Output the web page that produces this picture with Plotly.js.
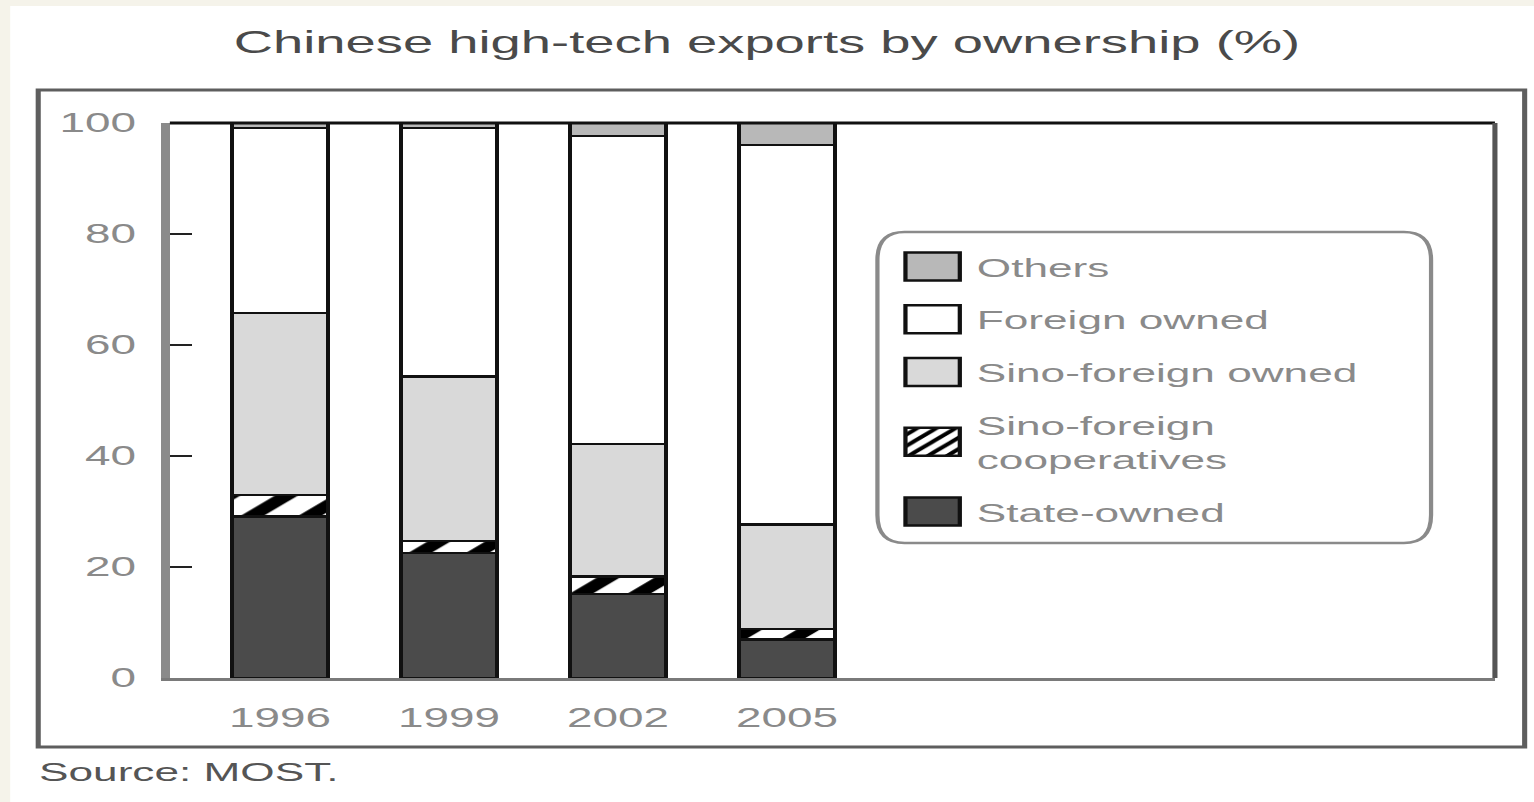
<!DOCTYPE html>
<html>
<head>
<meta charset="utf-8">
<script src="https://cdn.plot.ly/plotly-3.0.1.min.js"></script>
<style>
  html, body { margin: 0; padding: 0; overflow: hidden; background: #f5f3ea; }
  #chart { width: 903px; height: 802px; transform: scaleX(1.698781); transform-origin: 0 0; }
</style>
</head>
<body>
<div id="chart"></div>
<script>
// ---- data (percent of high-tech exports) ----
const years = ['1996', '1999', '2002', '2005'];
const seriesNames = ['State-owned', 'Sino-foreign<br>cooperatives', 'Sino-foreign owned', 'Foreign owned', 'Others'];
const stateOwned   = [29.1, 22.5, 15.1, 6.9];
const sinoCoop     = [3.9, 2.2, 3.2, 1.9];
const sinoOwned    = [32.8, 29.6, 23.9, 18.9];
const foreignOwned = [33.3, 44.8, 55.5, 68.3];
const others       = [0.9, 0.9, 2.3, 4.0];
const yTicks = [0, 20, 40, 60, 80, 100];

const seriesValues = [stateOwned, sinoCoop, sinoOwned, foreignOwned, others];
const fills = ['#4b4b4b', '#ffffff', '#d9d9d9', '#ffffff', '#b8b8b8'];

const traces = seriesValues.map((vals, i) => {
  const t = {
    type: 'bar',
    name: seriesNames[i],
    legendgroup: 'g' + i,
    legendrank: seriesValues.length - i,
    x: years,
    y: vals,
    marker: { color: fills[i], line: { color: '#111', width: 2.5 } },
    hoverinfo: 'skip'
  };
  if (i === 1) {
    t.marker.pattern = { shape: '/', fgcolor: '#000', bgcolor: '#fff', size: 24, solidity: 0.4 };
  }
  return t;
});

// plot area helpers (unstretched px -> paper)
const L = 100, T = 123, PW = 780, PH = 555;
const px = x => (x - L) / PW;
const py = y => (T + PH - y) / PH;

// legend rounded frame
const bx0 = px(516.5), bx1 = px(842.4), by0 = py(543), by1 = py(232);
const rx = 16 / PW, ry = 28 / PH;
const legendFrame = `M${bx0 + rx},${by1} L${bx1 - rx},${by1} Q${bx1},${by1} ${bx1},${by1 - ry} ` +
  `L${bx1},${by0 + ry} Q${bx1},${by0} ${bx1 - rx},${by0} L${bx0 + rx},${by0} ` +
  `Q${bx0},${by0} ${bx0},${by0 + ry} L${bx0},${by1 - ry} Q${bx0},${by1} ${bx0 + rx},${by1} Z`;

const layout = {
  width: 903,
  height: 802,
  margin: { l: L, r: 23, t: T, b: 124 },
  paper_bgcolor: '#ffffff',
  plot_bgcolor: '#ffffff',
  font: { family: 'Liberation Sans, Arial, sans-serif', color: '#888' },
  barmode: 'stack',
  bargap: 0.43,
  title: {
    text: 'Chinese high-tech exports by ownership (%)',
    font: { size: 32, color: '#4a4a4a' },
    x: 0.5, xanchor: 'center',
    y: 1 - 42 / 802, yanchor: 'middle'
  },
  xaxis: {
    type: 'category',
    range: [-0.651, 7.188],
    showline: true, linecolor: '#7a7a7a', linewidth: 3,
    ticks: '', showgrid: false, zeroline: false,
    tickfont: { size: 27, color: '#8a8a8a' },
    ticklabelstandoff: 14,
    fixedrange: true
  },
  yaxis: {
    range: [0, 100],
    tickvals: yTicks,
    ticktext: yTicks.map(String),
    showline: true, linecolor: '#8a8a8a', linewidth: 5.5,
    ticks: 'inside', ticklen: 13, tickwidth: 2.5, tickcolor: '#222',
    showgrid: false, zeroline: false,
    tickfont: { size: 27, color: '#8a8a8a' },
    ticklabelstandoff: 9,
    fixedrange: true
  },
  showlegend: true,
  legend: {
    x: px(523), xanchor: 'left',
    y: py(243), yanchor: 'top',
    bgcolor: 'rgba(0,0,0,0)',
    borderwidth: 0,
    font: { size: 26, color: '#8a8a8a' },
    itemwidth: 42,
    tracegroupgap: 16,
    traceorder: 'grouped',
    valign: 'middle'
  },
  shapes: [
    // beige page edge strips
    { type: 'rect', xref: 'paper', yref: 'paper', x0: px(0), x1: px(6), y0: py(802), y1: py(0),
      fillcolor: '#f5f3ea', line: { width: 0 }, layer: 'below' },
    { type: 'rect', xref: 'paper', yref: 'paper', x0: px(0), x1: px(903), y0: py(6), y1: py(0),
      fillcolor: '#f5f3ea', line: { width: 0 }, layer: 'below' },
    // outer frame
    { type: 'rect', xref: 'paper', yref: 'paper', x0: px(22.5), x1: px(897.5), y0: py(747), y1: py(90),
      line: { color: '#5e5e5e', width: 3 } },
    // plot frame: top and right
    { type: 'line', xref: 'paper', yref: 'paper', x0: 0, x1: 1, y0: 1, y1: 1,
      line: { color: '#111', width: 3 } },
    { type: 'line', xref: 'paper', yref: 'paper', x0: 1, x1: 1, y0: 0, y1: 1,
      line: { color: '#555', width: 3 } },
    // legend rounded frame
    { type: 'path', xref: 'paper', yref: 'paper', path: legendFrame,
      line: { color: '#8a8a8a', width: 2.5 } }
  ],
  annotations: [
    { text: 'Source: MOST.', xref: 'paper', yref: 'paper', x: px(21), y: py(772),
      xanchor: 'left', yanchor: 'middle', showarrow: false,
      font: { size: 26, color: '#555' } }
  ]
};

Plotly.newPlot('chart', traces, layout, { displayModeBar: false, staticPlot: true }).then(gd => {
  // enlarge legend swatches to match the source's big boxes
  gd.querySelectorAll('.legend .legendpoints path').forEach(p => {
    p.setAttribute('d', 'M16,14H-16V-14H16Z');
  });
});
</script>
</body>
</html>
